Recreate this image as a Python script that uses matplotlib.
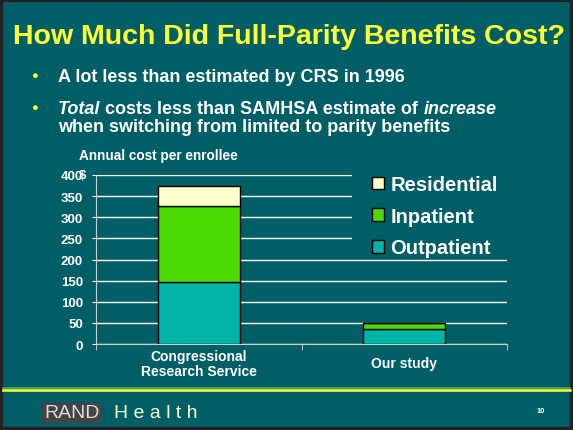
import matplotlib.pyplot as plt
from matplotlib.patches import Rectangle

# data
studies = ['Congressional\nResearch Service', 'Our study']
outpatient = [146, 35]
inpatient = [180, 14]
residential = [47, 1]
yticks = [0, 50, 100, 150, 200, 250, 300, 350, 400]

bg = '#005F66'
W, H = 573, 431

plt.rcParams['font.family'] = ['Liberation Sans', 'DejaVu Sans']
fig = plt.figure(figsize=(W / 100, H / 100), dpi=100, facecolor=bg)


def px(x, y):
    return x / W, 1 - y / H


# slide frame
fig.patches.append(Rectangle((0, 0), 1, 1, transform=fig.transFigure, fill=False,
                             edgecolor='#222222', linewidth=4.5))
# footer lines
fig.add_artist(plt.Line2D([0.005, 0.995], [1 - 388.5 / H] * 2, color='#55AA55', linewidth=1.2))
fig.add_artist(plt.Line2D([0.005, 0.995], [1 - 391 / H] * 2, color='#FFFF33', linewidth=1.8))

# title and bullets
fig.text(*px(289, 37), 'How Much Did Full-Parity Benefits Cost?', ha='center', va='center',
         color='#FFFF33', fontsize=20.5, fontweight='bold')
for yy in [76, 108]:
    fig.text(*px(34, yy), '\u25CF', ha='center', va='center', color='#FFFF33', fontsize=8)

bullet = dict(va='center', color='white', fontsize=13, fontweight='bold')
fig.text(*px(58, 77), 'A lot less than estimated by CRS in 1996', ha='left', **bullet)

# second bullet is mixed italic / upright, laid out piece by piece
renderer = fig.canvas.get_renderer()
pieces = [('Total', 'italic'), (' costs less than SAMHSA estimate of ', 'normal'),
          ('increase', 'italic')]
xpos = 58
for txt, st in pieces:
    t = fig.text(*px(xpos, 109), txt, ha='left', style=st, **bullet)
    xpos += t.get_window_extent(renderer).width
fig.text(*px(58, 128), 'when switching from limited to parity benefits', ha='left', **bullet)

# chart
ax = fig.add_axes([96 / W, 1 - 345 / H, (507 - 96) / W, (345 - 176) / H])
ax.set_facecolor(bg)
x = [0, 1]
ax.bar(x, outpatient, width=0.4, color='#00B4A8', edgecolor='black', linewidth=1,
       label='Outpatient', zorder=3)
ax.bar(x, inpatient, width=0.4, bottom=outpatient, color='#4CDB00', edgecolor='black',
       linewidth=1, label='Inpatient', zorder=3)
base2 = [a + b for a, b in zip(outpatient, inpatient)]
ax.bar(x, residential, width=0.4, bottom=base2, color='#FFFFCC', edgecolor='black',
       linewidth=1, label='Residential', zorder=3)

ax.set_xlim(-0.5, 1.5)
ax.set_ylim(0, 400)
ax.set_yticks(yticks)
ax.set_yticklabels([str(v) for v in yticks])
ax.yaxis.grid(True, color='white', linewidth=1, zorder=0)
ax.set_axisbelow(True)
ax.set_xticks(x)
ax.set_xticklabels(studies, linespacing=1.1, va='center')
ax.set_xticks([-0.5, 0.5, 1.5], minor=True)
ax.tick_params(axis='x', which='major', length=0, pad=14, labelcolor='white', labelsize=10)
ax.tick_params(axis='x', which='minor', length=4, color='#DDDDDD', direction='out')
ax.tick_params(axis='y', length=3, color='white', labelcolor='white', labelsize=9.5, pad=6.5)
for lab in ax.get_xticklabels() + ax.get_yticklabels():
    lab.set_fontweight('bold')
for s in ['top', 'right']:
    ax.spines[s].set_visible(False)
for s in ['left', 'bottom']:
    ax.spines[s].set_color('#CCCCCC')

# legend sits on a plain patch that hides the upper gridlines
ax.add_patch(Rectangle(px(352, 250), (508 - 352) / W, (250 - 170) / H,
                       transform=fig.transFigure, facecolor=bg, edgecolor='none',
                       zorder=1, clip_on=False))
h, l = ax.get_legend_handles_labels()
leg = ax.legend(h[::-1], l[::-1], loc='upper left',
                bbox_to_anchor=(366 / W, 1 - 170 / H), bbox_transform=fig.transFigure,
                frameon=False, prop={'size': 14.5, 'weight': 'bold'}, labelcolor='white',
                handlelength=0.6, handleheight=0.6, handletextpad=0.3,
                labelspacing=0.63, borderpad=0.3, borderaxespad=0)
leg.set_zorder(5)

fig.text(*px(82, 176), '$', ha='center', va='center', color='white', fontsize=9.5,
         fontweight='bold')
fig.text(*px(79, 156), 'Annual cost per enrollee', ha='left', va='center', color='white',
         fontsize=9.8, fontweight='bold')

# footer
fig.text(*px(72, 414), 'RAND', ha='center', va='center', color='#DDDDDD', fontsize=14,
         bbox=dict(boxstyle='square,pad=0.1', facecolor='#444444', edgecolor='none'))
fig.text(*px(114, 414), 'H e a l t h', ha='left', va='center', color='#FFFFCC', fontsize=14)
fig.text(*px(541, 412), '10', ha='center', va='center', color='white', fontsize=5.5,
         fontweight='bold')

fig.savefig('out.png', dpi=100, facecolor=bg)
